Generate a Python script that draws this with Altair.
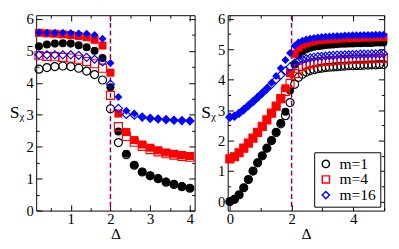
import altair as alt
import pandas as pd

SERIES = ["m=1", "m=4", "m=16"]
COLORS = ["#000000", "#ff0000", "#0000ff"]
SHAPES = ["circle", "square", "diamond"]

# ---- left panel ----
xs_l = [0.2, 0.4, 0.6, 0.8, 1.0, 1.2, 1.4, 1.6, 1.8, 2.0,
        2.2, 2.4, 2.6, 2.8, 3.0, 3.2, 3.4, 3.6, 3.8, 4.0]
m1_filled_l = [5.15, 5.20, 5.23, 5.24, 5.23, 5.18, 5.12, 5.01, 4.78, 3.86,
               2.48, 1.78, 1.43, 1.22, 1.10, 1.01, 0.90, 0.83, 0.76, 0.71]
m1_open_l = [4.43, 4.48, 4.51, 4.53, 4.51, 4.46, 4.37, 4.26, 4.09, 3.19,
             2.13, 1.75, 1.42, 1.21, 1.09, 1.00, 0.89, 0.82, 0.75, 0.70]
m4_filled_l = [5.57, 5.55, 5.54, 5.52, 5.50, 5.47, 5.43, 5.35, 5.17, 4.32,
               3.04, 2.46, 2.21, 2.07, 1.97, 1.89, 1.82, 1.78, 1.74, 1.71]
m4_open_l = [4.85, 4.83, 4.82, 4.80, 4.78, 4.74, 4.67, 4.60, 4.46, 3.61,
             2.63, 2.32, 2.14, 2.01, 1.91, 1.84, 1.78, 1.74, 1.70, 1.67]
m16_filled_l = [5.58, 5.57, 5.57, 5.57, 5.56, 5.55, 5.54, 5.50, 5.38, 4.62,
                3.56, 3.13, 3.04, 2.93, 2.89, 2.87, 2.85, 2.83, 2.82, 2.82]
m16_open_l = [4.88, 4.88, 4.88, 4.88, 4.88, 4.86, 4.80, 4.74, 4.66, 3.96,
              3.20, 3.01, 2.99, 2.93, 2.89, 2.87, 2.85, 2.83, 2.82, 2.81]

# ---- right panel ----
xs_r = [0.0, 0.15, 0.3, 0.45, 0.6, 0.75, 0.9, 1.05, 1.2, 1.35, 1.5, 1.65, 1.8, 1.95,
        2.1, 2.225, 2.35, 2.475, 2.6, 2.725, 2.85, 2.975, 3.1, 3.225, 3.35, 3.475,
        3.6, 3.725, 3.85, 3.975, 4.1, 4.225, 4.35, 4.475, 4.6, 4.725, 4.85, 4.975]
m1_filled_r = [0.00, 0.07, 0.22, 0.45, 0.72, 1.00, 1.27, 1.50, 1.75, 2.00, 2.28, 2.58, 2.95, 3.65,
               4.50, 4.80, 4.93, 5.00, 5.05, 5.08, 5.10, 5.12, 5.14, 5.15, 5.16, 5.17,
               5.18, 5.18, 5.19, 5.19, 5.20, 5.20, 5.21, 5.21, 5.21, 5.22, 5.22, 5.22]
m1_open_r = [0.00, 0.07, 0.22, 0.45, 0.72, 1.00, 1.27, 1.50, 1.75, 2.00, 2.27, 2.55, 2.82, 3.25,
             3.85, 4.08, 4.18, 4.25, 4.30, 4.33, 4.36, 4.38, 4.40, 4.41, 4.42, 4.43,
             4.44, 4.45, 4.46, 4.46, 4.47, 4.47, 4.48, 4.48, 4.49, 4.49, 4.50, 4.50]
m4_filled_r = [1.40, 1.47, 1.60, 1.75, 1.92, 2.08, 2.27, 2.47, 2.68, 2.90, 3.13, 3.40, 3.72, 4.22,
               4.85, 5.05, 5.15, 5.20, 5.24, 5.27, 5.29, 5.31, 5.32, 5.33, 5.34, 5.35,
               5.36, 5.36, 5.37, 5.37, 5.38, 5.38, 5.39, 5.39, 5.39, 5.40, 5.40, 5.40]
m4_open_r = [1.40, 1.47, 1.60, 1.75, 1.92, 2.08, 2.27, 2.47, 2.68, 2.90, 3.13, 3.38, 3.62, 3.88,
             4.20, 4.36, 4.44, 4.49, 4.53, 4.56, 4.58, 4.60, 4.61, 4.62, 4.63, 4.64,
             4.65, 4.66, 4.66, 4.67, 4.67, 4.68, 4.68, 4.69, 4.69, 4.70, 4.70, 4.70]
m16_filled_r = [2.77, 2.80, 2.90, 3.02, 3.15, 3.28, 3.42, 3.56, 3.72, 3.90, 4.12, 4.38, 4.65, 4.88,
                5.12, 5.22, 5.28, 5.32, 5.35, 5.37, 5.39, 5.40, 5.41, 5.42, 5.43, 5.44,
                5.44, 5.45, 5.45, 5.46, 5.46, 5.46, 5.47, 5.47, 5.47, 5.48, 5.48, 5.48]
m16_open_r = [2.77, 2.80, 2.90, 3.02, 3.15, 3.28, 3.42, 3.56, 3.70, 3.85, 4.00, 4.15, 4.30, 4.42,
              4.55, 4.62, 4.66, 4.69, 4.72, 4.74, 4.76, 4.77, 4.78, 4.79, 4.80, 4.81,
              4.81, 4.82, 4.82, 4.83, 4.83, 4.84, 4.84, 4.84, 4.85, 4.85, 4.85, 4.86]

CRIT = [2.0]

left_x_ticks = [0.5, 1.0, 1.5, 2.0, 2.5, 3.0, 3.5, 4.0]
right_x_ticks = [0, 1, 2, 3, 4, 5]
y_ticks = [0, 0.5, 1, 1.5, 2, 2.5, 3, 3.5, 4, 4.5, 5, 5.5, 6]

FONT = "Liberation Serif"


def build_df(xs, groups):
    rows = []
    for s, kind, ys in groups:
        for x, y in zip(xs, ys):
            rows.append({"x": x, "y": y, "m": s, "kind": kind})
    return pd.DataFrame(rows)


df_l = build_df(xs_l, [("m=1", "filled", m1_filled_l), ("m=1", "open", m1_open_l),
                       ("m=4", "filled", m4_filled_l), ("m=4", "open", m4_open_l),
                       ("m=16", "filled", m16_filled_l), ("m=16", "open", m16_open_l)])
df_r = build_df(xs_r, [("m=1", "filled", m1_filled_r), ("m=1", "open", m1_open_r),
                       ("m=4", "filled", m4_filled_r), ("m=4", "open", m4_open_r),
                       ("m=16", "filled", m16_filled_r), ("m=16", "open", m16_open_r)])
df_crit = pd.DataFrame({"x": CRIT})


def tick(test):
    return {"condition": {"test": test, "value": -6}, "value": -3}


def panel(df, xdom, ydom, xvals, xtest, show_legend, w, h):
    xsc = alt.Scale(domain=xdom, nice=False, zero=False)
    ysc = alt.Scale(domain=ydom, nice=False, zero=False)
    ytest = "datum.value % 1 === 0"
    xaxis = alt.Axis(values=xvals, labelExpr=f"{xtest} ? format(datum.value, 'd') : ''",
                     tickSize=tick(xtest), domain=False, grid=False, title="Δ",
                     labelFont=FONT, labelFontSize=15, labelColor="black", labelPadding=7,
                     titleFont=FONT, titleFontSize=16, titleFontWeight="normal", titleColor="black",
                     titlePadding=0, tickColor="black")
    yaxis = alt.Axis(values=y_ticks, labelExpr=f"{ytest} ? format(datum.value, 'd') : ''",
                     tickSize=tick(ytest), domain=False, grid=False, title="Sᵪ",
                     labelFont=FONT, labelFontSize=15, labelColor="black", labelPadding=9,
                     titleFont=FONT, titleFontSize=18, titleFontWeight="normal", titleColor="black",
                     titleAngle=0, titleAlign="right", titleBaseline="middle", titlePadding=2,
                     tickColor="black")
    xaxis2 = alt.Axis(values=xvals, labels=False, tickSize=tick(xtest), domain=False,
                      grid=False, title=None, orient="top", tickColor="black")
    yaxis2 = alt.Axis(values=y_ticks, labels=False, tickSize=tick(ytest), domain=False,
                      grid=False, title=None, orient="right", tickColor="black")

    cscale = alt.Scale(domain=SERIES, range=COLORS)
    sscale = alt.Scale(domain=SERIES, range=SHAPES)

    rule = alt.Chart(df_crit).mark_rule(color="#800066", strokeDash=[5, 3], strokeWidth=1.5).encode(
        x=alt.X("x:Q", scale=xsc, axis=xaxis2)
    )
    ghost = alt.Chart(df).mark_point(opacity=0).encode(
        x=alt.X("x:Q", scale=xsc, axis=None),
        y=alt.Y("y:Q", scale=ysc, axis=yaxis2),
    )
    filled = alt.Chart(df).transform_filter(alt.datum.kind == "filled").mark_point(
        filled=True, size=68, opacity=1
    ).encode(
        x=alt.X("x:Q", scale=xsc, axis=xaxis),
        y=alt.Y("y:Q", scale=ysc, axis=yaxis),
        color=alt.Color("m:N", scale=cscale, legend=None),
        shape=alt.Shape("m:N", scale=sscale, legend=None),
    )
    if show_legend:
        leg = alt.Legend(title=None, orient="bottom-right", offset=4, fillColor="white",
                         strokeColor="black", padding=4, labelFont=FONT, labelFontSize=16,
                         labelColor="black", symbolSize=55, symbolStrokeWidth=1.5,
                         rowPadding=0, symbolFillColor="transparent", labelOffset=6)
    else:
        leg = None
    opened = alt.Chart(df).transform_filter(alt.datum.kind == "open").mark_point(
        filled=False, size=68, opacity=1, strokeWidth=1.2
    ).encode(
        x=alt.X("x:Q", scale=xsc, axis=None),
        y=alt.Y("y:Q", scale=ysc, axis=None),
        color=alt.Color("m:N", scale=cscale, legend=leg),
        shape=alt.Shape("m:N", scale=sscale, legend=leg),
    )
    return alt.layer(rule, ghost, filled, opened).resolve_axis(
        x="independent", y="independent"
    ).resolve_legend(color="independent", shape="independent").properties(width=w, height=h)


left = panel(df_l, [0.13, 4.12], [0.0, 6.12], left_x_ticks, "datum.value % 1 === 0", False, 163, 201)
right = panel(df_r, [-0.07, 5.0], [-0.3, 6.12], right_x_ticks, "datum.value % 2 === 0", True, 161, 201)

chart = alt.hconcat(left, right, spacing=2).properties(
    padding={"left": 0, "top": 0, "right": 0, "bottom": 0}
).configure_view(stroke="black", strokeWidth=1)

chart.save("out.html", embed_options={"renderer": "svg", "actions": False})
